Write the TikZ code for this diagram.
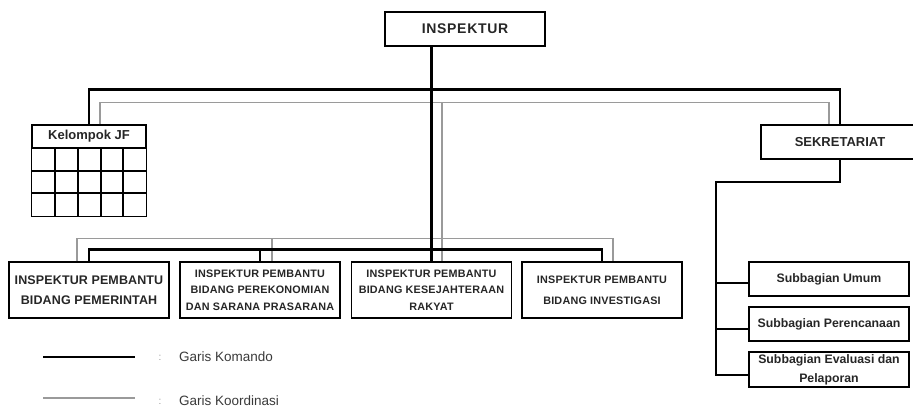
\documentclass[tikz,border=0pt]{standalone}
\usepackage{fontspec}
\setmainfont{Liberation Sans}
\usetikzlibrary{calc}
\definecolor{gline}{HTML}{9A9A9A}
\definecolor{gtext}{HTML}{3A3A3A}

\begin{document}
\begin{tikzpicture}[x=1pt, y=-1pt]
    \tikzset{box/.style={
      rectangle,
      draw,
      line width=1.1pt,
      minimum width=160pt,
      minimum height=34pt,
      inner sep=0pt,
      align=center,
      text=black!85}}
    \tikzset{komando/.style={line width=2.4pt, draw=black}}
    \tikzset{koord/.style={line width=1.3pt, draw=gline}}
    \tikzset{sub/.style={line width=1.1pt, draw=black}}
    \useasboundingbox (0, 0) rectangle (913, 409);

    \node at (465, 29) [box,font=\bfseries\fontsize{14}{16}\selectfont\addfontfeature{LetterSpace=5}] (0) {INSPEKTUR};
    \node at (89, 136.5) [box,minimum width=114pt,minimum height=23pt,font=\bfseries\fontsize{13}{15}\selectfont] (1) {Kelompok JF};
    \node at (840, 142) [box,minimum width=158pt,font=\bfseries\fontsize{13}{15}\selectfont] (2) {SEKRETARIAT};

    \node at (829, 279) [box,font=\bfseries\fontsize{12.3}{18}\selectfont] (3) {Subbagian Umum};
    \node at (829, 324) [box,font=\bfseries\fontsize{12.3}{18}\selectfont] (4) {Subbagian Perencanaan};
    \node at (829, 369.5) [box,minimum height=35pt,font=\bfseries\fontsize{12.3}{19}\selectfont] (5) {Subbagian Evaluasi dan\\Pelaporan};

    \node at (89, 290) [box,minimum height=56pt,font=\bfseries\fontsize{12.5}{20}\selectfont\addfontfeature{LetterSpace=1}] (6) {INSPEKTUR PEMBANTU\\BIDANG PEMERINTAH};
    \node at (260, 290) [box,minimum height=56pt,font=\bfseries\fontsize{10.8}{16.5}\selectfont\addfontfeature{LetterSpace=2}] (7) {INSPEKTUR PEMBANTU\\BIDANG PEREKONOMIAN\\DAN SARANA PRASARANA};
    \node at (431.5, 290) [box,minimum height=56pt,font=\bfseries\fontsize{10.8}{16.5}\selectfont\addfontfeature{LetterSpace=2}] (8) {INSPEKTUR PEMBANTU\\BIDANG KESEJAHTERAAN\\RAKYAT};
    \node at (602, 290) [box,minimum height=56pt,font=\bfseries\fontsize{10.8}{21}\selectfont\addfontfeature{LetterSpace=2}] (9) {INSPEKTUR PEMBANTU\\BIDANG INVESTIGASI};

    % grid under Kelompok JF
    \draw[line width=1.1pt] (1.south west) rectangle ($(1.south east)+(0, 68)$);
    \foreach \x in {55, 78, 101, 123}
      \draw[line width=1.1pt] (\x, 148) -- (\x, 216);
    \foreach \y in {171, 193}
      \draw[line width=1.1pt] (32, \y) -- (146, \y);

    % garis koordinasi
    \draw[koord] ([xshift=11pt]1.north) -- ++(0, -22) -| ([xshift=-11pt]2.north);
    \draw[koord] ([xshift=10.5pt]8.north |- 0, 103) -- ([xshift=10.5pt]8.north);
    \draw[koord] ([xshift=-12pt]6.north) -- ++(0, -23) -| ([xshift=11pt]9.north);
    \draw[koord] ([xshift=12pt]7.north |- 0, 239) -- ([xshift=12pt]7.north);

    % garis komando
    \draw[komando] (1.north) -- ++(0, -35) -| (2.north);
    \draw[komando] (8.north |- 0.south) -- (8.north);
    \draw[komando] (6.north) -- ++(0, -12) -| (9.north);
    \draw[komando] (7.north |- 0, 250) -- (7.north);

    % sekretariat
    \coordinate (s) at (716, 182);
    \draw[sub] (2.south) |- (s) |- ([yshift=-5.5pt]5.west);
    \draw[sub] (s |- 3.west) ++(0, 4) -- ([yshift=-4pt]3.west);
    \draw[sub] (s |- 4.west) ++(0, 5) -- ([yshift=-5pt]4.west);

    % keterangan
    \draw[komando] (43, 357) -- (135, 357);
    \draw[koord] (43, 398) -- (135, 398);
    \node at (160, 358) [text=gline] (10) {:};
    \node at (179, 357) [anchor=west,inner sep=0pt,text=gtext,font=\fontsize{13.5}{15}\selectfont] (11) {Garis Komando};
    \node at (160, 402) [text=gline] (12) {:};
    \node at (179, 401) [anchor=west,inner sep=0pt,text=gtext,font=\fontsize{13.5}{15}\selectfont] (13) {Garis Koordinasi};
\end{tikzpicture}
\end{document}
